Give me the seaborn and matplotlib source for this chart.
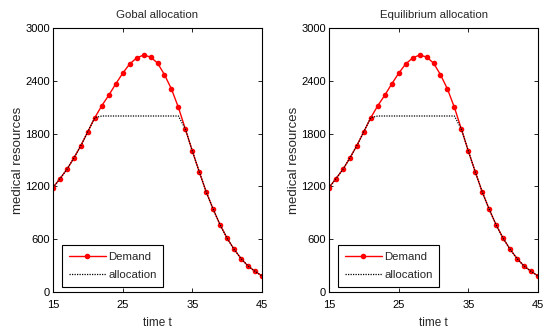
import matplotlib
matplotlib.use("Agg")
import matplotlib.pyplot as plt
import seaborn as sns
import pandas as pd

# ---- data ----
time_t = list(range(15, 46))
demand = [1186, 1288, 1394, 1523, 1663, 1822, 1981, 2117, 2235, 2364,
          2485, 2591, 2659, 2693, 2670, 2602, 2470, 2307, 2098, 1852,
          1602, 1364, 1136, 939, 761, 610, 485, 379, 295, 235, 182]
allocation = [1186, 1288, 1394, 1523, 1663, 1822, 1981, 2000, 2000, 2000,
              2000, 2000, 2000, 2000, 2000, 2000, 2000, 2000, 2000, 1852,
              1602, 1364, 1136, 939, 761, 610, 485, 379, 295, 235, 182]
titles = ["Gobal allocation", "Equilibrium allocation"]
x_ticks = [15, 25, 35, 45]
y_ticks = [0, 600, 1200, 1800, 2400, 3000]

sns.set_style("ticks")
plt.rcParams['font.family'] = ['Liberation Sans', 'DejaVu Sans']

df = pd.DataFrame({"t": time_t, "demand": demand, "allocation": allocation})

fig = plt.figure(figsize=(5.43, 3.31), dpi=100)
lefts = [53 / 543, 329 / 543]
for i, title in enumerate(titles):
    ax = fig.add_axes([lefts[i], 39 / 331, 209 / 543, 264 / 331])
    sns.lineplot(data=df, x="t", y="demand", ax=ax, color="red", lw=1.0,
                 marker="o", markersize=4, markeredgewidth=0,
                 label="Demand")
    sns.lineplot(data=df, x="t", y="allocation", ax=ax, color="black",
                 lw=0.9, linestyle=(0, (1, 1)), label="allocation")
    ax.set_xlim(15, 45)
    ax.set_ylim(0, 3000)
    ax.set_xticks(x_ticks)
    ax.set_yticks(y_ticks)
    ax.tick_params(direction="in", length=3, width=0.6, labelsize=8,
                   top=True, right=True, colors="black")
    ax.tick_params(axis="x", pad=6)
    ax.tick_params(axis="y", pad=2)
    for sp in ax.spines.values():
        sp.set_linewidth(0.8)
        sp.set_color("black")
    ax.set_title(title, fontsize=8.2, pad=7)
    ax.set_xlabel("time t", fontsize=8.5, labelpad=4.5)
    ax.set_ylabel("medical resources", fontsize=9.5, labelpad=1)
    leg = ax.legend(loc="lower left", bbox_to_anchor=(0.043, 0.02),
                    borderaxespad=0, fontsize=8.2, handlelength=3.25,
                    frameon=True, fancybox=False, edgecolor="black",
                    framealpha=1, borderpad=0.6, labelspacing=0.67,
                    handletextpad=0.2)
    leg.get_frame().set_linewidth(0.8)

fig.savefig("out.png", dpi=100)
